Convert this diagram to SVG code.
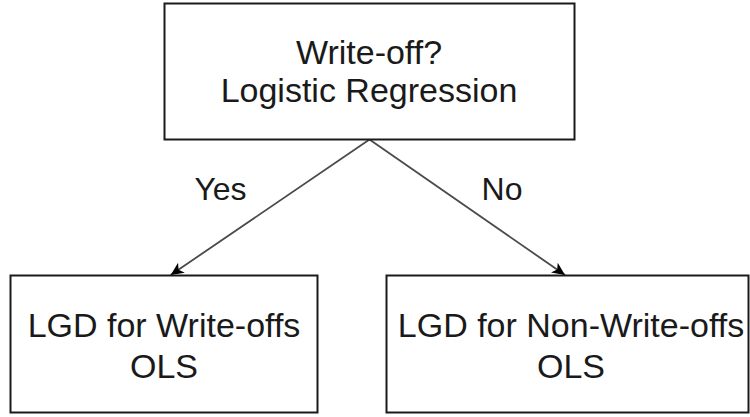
<svg xmlns="http://www.w3.org/2000/svg" width="750" height="417" viewBox="0 0 750 417">
<style>
.box{fill:#ffffff;stroke:#1a1a1a;stroke-width:2}
.t{font-family:"Liberation Sans",Arial,sans-serif;font-size:34px;fill:#1a1a1a;text-anchor:middle}
.lbl{font-family:"Liberation Sans",Arial,sans-serif;font-size:32px;fill:#1a1a1a;text-anchor:middle}
.edge{fill:none;stroke:#4a4a4a;stroke-width:1.8}
</style>
<defs>
<marker id="arr" markerUnits="userSpaceOnUse" markerWidth="16" markerHeight="14" refX="13" refY="7" orient="auto">
<path d="M13,7 L0,1 L3.5,7 L0,13 Z" fill="#000000"/>
</marker>
</defs>
<rect width="750" height="417" fill="#ffffff"/>
<g id="connectors">
<path class="edge" d="M369.5,139.5 L170.7,275" marker-end="url(#arr)"/>
<path class="edge" d="M369.5,139.5 L565,275" marker-end="url(#arr)"/>
<text class="lbl" x="220.5" y="200">Yes</text>
<text class="lbl" x="502" y="200">No</text>
</g>
<g id="node-writeoff">
<rect class="box" x="164.5" y="3.5" width="410" height="136"/>
<text class="t" x="369" y="63.5">Write-off?</text>
<text class="t" x="369" y="102">Logistic Regression</text>
</g>
<g id="node-lgd-writeoffs">
<rect class="box" x="10.5" y="275.5" width="307" height="137"/>
<text class="t" x="164" y="337">LGD for Write-offs</text>
<text class="t" x="164" y="378">OLS</text>
</g>
<g id="node-lgd-nonwriteoffs">
<rect class="box" x="386.5" y="275.5" width="362" height="137"/>
<text class="t" x="571" y="337">LGD for Non-Write-offs</text>
<text class="t" x="571" y="378">OLS</text>
</g>
</svg>
